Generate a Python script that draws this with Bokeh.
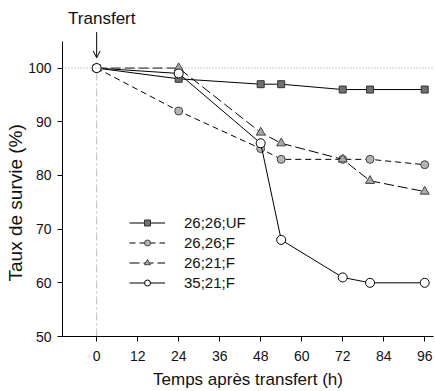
from bokeh.plotting import figure
from bokeh.models import (Range1d, FixedTicker, Span, Label, Arrow, OpenHead,
                          Legend, LegendItem, Title)
from bokeh.embed import file_html
from bokeh.resources import INLINE

hours = [0, 24, 48, 54, 72, 80, 96]
s_uf = [100, 98, 97, 97, 96, 96, 96]
s_26f = [100, 92, 85, 83, 83, 83, 82]
s_21f = [100, 100, 88, 86, 83, 79, 77]
s_35f = [100, 99, 86, 68, 61, 60, 60]
names = ["26;26;UF", "26,26;F", "26;21;F", "35;21;F"]
x_ticks = [0, 12, 24, 36, 48, 60, 72, 84, 96]
y_ticks = [50, 60, 70, 80, 90, 100]

FONT = "Liberation Sans"

p = figure(width=435, height=391, output_backend="svg", toolbar_location=None,
           x_range=Range1d(-10, 98.57), y_range=Range1d(50, 111.1),
           min_border_left=62, min_border_right=2, min_border_top=8,
           min_border_bottom=53)
p.outline_line_color = None
p.grid.visible = False
p.background_fill_color = "white"

for ax in (p.xaxis[0], p.yaxis[0]):
    ax.axis_line_color = "black"
    ax.axis_line_width = 1
    ax.major_tick_line_color = "black"
    ax.major_tick_out = 5
    ax.major_tick_in = 0
    ax.minor_tick_line_color = None
    ax.major_label_text_font = FONT
    ax.major_label_text_font_size = "14px"
    ax.major_label_text_color = "#111111"
    ax.axis_label_text_font = FONT
    ax.axis_label_text_font_style = "normal"
    ax.axis_label_text_color = "#111111"

p.xaxis.ticker = FixedTicker(ticks=x_ticks)
p.yaxis.ticker = FixedTicker(ticks=y_ticks)
p.xaxis.bounds = (-10, 98.57)
p.yaxis.bounds = (50, 105)
p.xaxis.axis_label = "Temps après transfert (h)"
p.xaxis.axis_label_text_font_size = "17px"
p.xaxis.axis_label_standoff = 6
p.xaxis.major_label_standoff = 9
p.yaxis.major_label_standoff = 6

# y axis title, placed in the left panel
p.add_layout(Title(text="Taux de survie (%)", align="left", offset=55,
                   text_font=FONT, text_font_size="19px",
                   text_font_style="normal", text_color="#111111",
                   standoff=0), "left")

# reference lines
p.add_layout(Span(location=100, dimension="width", line_color="#999999",
                  line_dash="1 2", line_width=1))
p.segment(x0=[0], y0=[50], x1=[0], y1=[100], line_color="#c0c0c0",
          line_dash="8 3 2 3", line_width=1)

# series
l1 = p.line(hours, s_uf, line_color="black", line_width=1)
m1 = p.scatter(hours, s_uf, marker="square", size=7, fill_color="#707070",
               line_color="#333333")
l2 = p.line(hours, s_26f, line_color="black", line_width=1, line_dash="6 4")
m2 = p.scatter(hours, s_26f, marker="circle", size=8, fill_color="#b4b4b4",
               line_color="#444444")
l3 = p.line(hours, s_21f, line_color="black", line_width=1, line_dash="10 4")
m3 = p.scatter(hours, s_21f, marker="triangle", size=9, fill_color="#a8a8a8",
               line_color="#444444")
l4 = p.line(hours, s_35f, line_color="black", line_width=1)
m4 = p.scatter(hours, s_35f, marker="circle", size=9, fill_color="white",
               line_color="black")

legend = Legend(items=[LegendItem(label=names[0], renderers=[l1, m1]),
                       LegendItem(label=names[1], renderers=[l2, m2]),
                       LegendItem(label=names[2], renderers=[l3, m3]),
                       LegendItem(label=names[3], renderers=[l4, m4])],
                location=(67, 45), padding=0, margin=0, spacing=3,
                glyph_height=15, label_height=15, glyph_width=36,
                label_standoff=19, background_fill_alpha=0,
                border_line_alpha=0, label_text_font=FONT,
                label_text_font_size="15px", label_text_color="#111111")
p.add_layout(legend)

# Transfert annotation
p.add_layout(Arrow(end=OpenHead(size=7, line_width=1, line_color="black"),
                   x_start=0, y_start=106.7, x_end=0, y_end=101.9,
                   line_color="black", line_width=1))
p.add_layout(Label(x=1.5, y=109.3, text="Transfert", text_align="center",
                   text_baseline="middle", text_font=FONT,
                   text_font_size="17px", text_color="#111111"))

open("out.html", "w").write(file_html(p, INLINE))
